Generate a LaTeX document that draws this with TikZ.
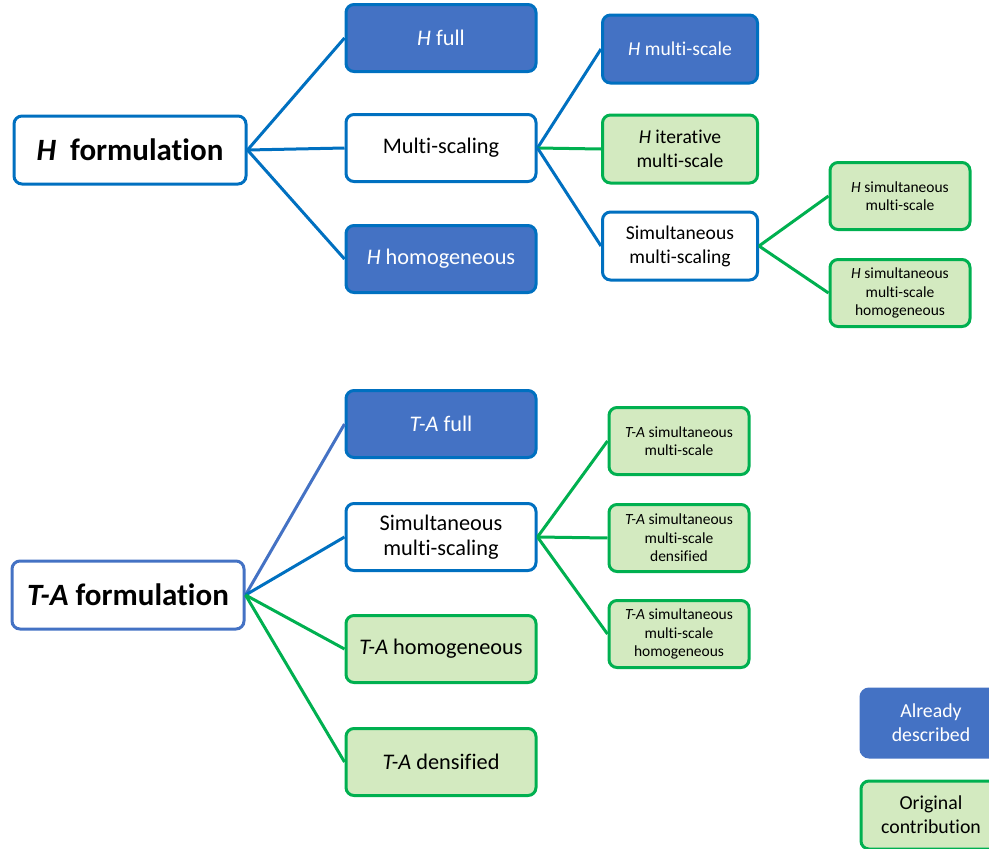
\documentclass[tikz,border=0pt]{standalone}
\usepackage{fontspec}
\setmainfont{Carlito}[Ligatures=NoCommon]
\definecolor{lblue}{HTML}{0070C0}
\definecolor{fblue}{HTML}{4472C4}
\definecolor{lgreen}{HTML}{00B050}
\definecolor{fgreen}{HTML}{D3EAC0}
\tikzset{
  x=1pt, y=-1pt,
  box/.style={rectangle, rounded corners=8pt, line width=3pt, align=center, inner sep=0pt, text=black},
  wbox/.style={box, draw=lblue, fill=white},
  bbox/.style={box, draw=lblue, fill=fblue, text=white},
  gbox/.style={box, draw=lgreen, fill=fgreen},
  big/.style={minimum width=190pt, minimum height=67pt, font=\fontsize{22.3}{25}\selectfont},
  mid/.style={minimum width=155pt, minimum height=68pt, font=\fontsize{19.6}{24}\selectfont},
  small/.style={minimum width=140pt, minimum height=67pt, font=\fontsize{15.5}{18.5}\selectfont},
  root/.style={minimum width=232pt, minimum height=68pt, font=\fontsize{31}{36}\selectfont\bfseries},
  legend/.style={minimum width=140pt, minimum height=68pt, font=\fontsize{19.8}{24}\selectfont},
  bl/.style={draw=lblue, line width=3pt},
  bl2/.style={draw=fblue, line width=3pt},
  gl/.style={draw=lgreen, line width=3pt},
}
\begin{document}
\begin{tikzpicture}
\useasboundingbox (0,0) rectangle (989,849);
\clip (0,0) rectangle (989,849);
% top tree
\node[wbox, root] (hf) at (130,150) {\textit{H}\ \ formulation};
\node[bbox, big] (hfull) at (441,38) {\textit{H} full};
\node[wbox, big] (ms) at (441,148) {Multi-scaling};
\node[bbox, big] (hhom) at (441,259) {\textit{H} homogeneous};
\node[bbox, mid] (hms) at (680,49) {\textit{H} multi-scale};
\node[gbox, mid] (hit) at (680,149) {\textit{H} iterative\\multi-scale};
\node[wbox, mid] (sms) at (680,246) {Simultaneous\\multi-scaling};
\node[gbox, small] (hsms) at (900,196) {\textit{H} simultaneous\\multi-scale};
\node[gbox, small] (hsmh) at (900,293) {\textit{H} simultaneous\\multi-scale\\homogeneous};
\draw[bl] (hf.east) -- (hfull.west);
\draw[bl] (hf.east) -- (ms.west);
\draw[bl] (hf.east) -- (hhom.west);
\draw[bl] (ms.east) -- (hms.west);
\draw[gl] (ms.east) -- (hit.west);
\draw[bl] (ms.east) -- (sms.west);
\draw[gl] (sms.east) -- (hsms.west);
\draw[gl] (sms.east) -- (hsmh.west);
% bottom tree
\node[wbox, root, draw=fblue] (ta) at (128,595) {\textit{T-A} formulation};
\node[bbox, big] (tafull) at (441,424) {\textit{T-A} full};
\node[wbox, big] (tsms) at (441,537) {Simultaneous\\multi-scaling};
\node[gbox, big] (tahom) at (441,649) {\textit{T-A} homogeneous};
\node[gbox, big] (taden) at (441,762) {\textit{T-A} densified};
\node[gbox, small] (t1) at (679,441) {\textit{T-A} simultaneous\\multi-scale};
\node[gbox, small] (t2) at (679,538) {\textit{T-A} simultaneous\\multi-scale\\densified};
\node[gbox, small] (t3) at (679,634) {\textit{T-A} simultaneous\\multi-scale\\homogeneous};
\draw[bl2] (ta.east) -- (tafull.west);
\draw[bl] (ta.east) -- (tsms.west);
\draw[gl] (ta.east) -- (tahom.west);
\draw[gl] (ta.east) -- (taden.west);
\draw[gl] (tsms.east) -- (t1.west);
\draw[gl] (tsms.east) -- (t2.west);
\draw[gl] (tsms.east) -- (t3.west);
% legend
\node[box, draw=fblue, fill=fblue, text=white, legend] (leg1) at (931,723) {Already\\described};
\node[gbox, legend] (leg2) at (931,815) {Original\\contribution};
\end{tikzpicture}
\end{document}
